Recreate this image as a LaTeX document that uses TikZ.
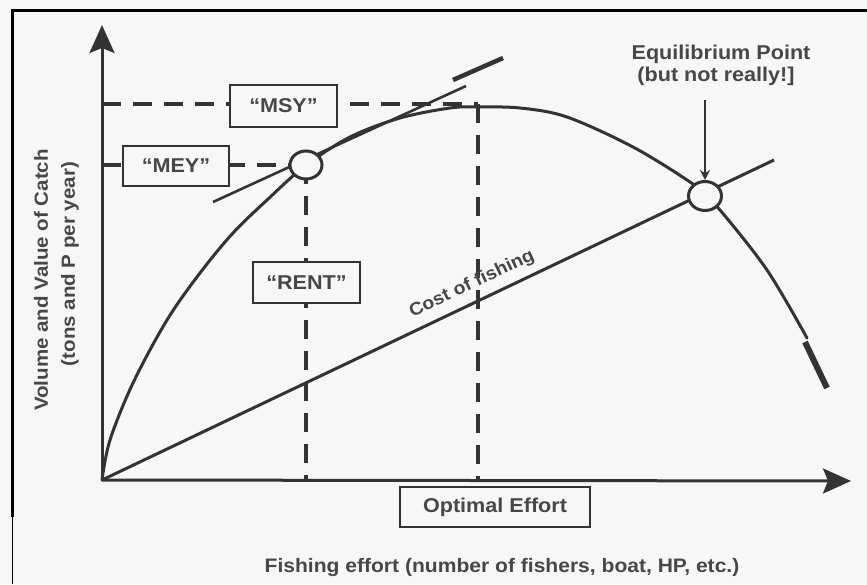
\documentclass[tikz,border=0pt]{standalone}
\usepackage{fontspec}
\setmainfont{Liberation Sans}[FakeStretch=1.08]
\usetikzlibrary{arrows.meta,shapes.geometric}
\definecolor{bg}{HTML}{F7F7F7}
\definecolor{ink}{HTML}{333333}
\definecolor{txt}{HTML}{474747}
\begin{document}
\begin{tikzpicture}[x=1pt,y=-1pt,
  lbl/.style={font=\fontsize{20}{24}\selectfont\bfseries, text=txt, inner sep=0pt},
  labbox/.style={draw=ink, line width=1.8pt, fill=bg, inner sep=0pt, font=\fontsize{20}{24}\selectfont\bfseries, text=txt},
  thickline/.style={draw=ink, line width=3pt},
  dashline/.style={draw=ink, line width=4pt, dash pattern=on 19pt off 12pt},
  ring/.style={ellipse, draw=ink, line width=3pt, fill=bg, inner sep=0pt},
  axisarrow/.style={draw=ink, line width=3pt, -{Stealth[length=28pt,width=25pt,inset=5pt]}}
]
\fill[bg] (0,0) rectangle (867,584);
\useasboundingbox (0,0) rectangle (867,584);
% frame
\coordinate (ftl) at (12,10);
\coordinate (ftr) at (867,10);
\coordinate (fbl) at (12,517);
\coordinate (fbb) at (12,584);
\draw[black, line width=3pt] (ftr) -- (ftl) -- (fbl);
\draw[black, line width=1pt] (fbl) -- (fbb);
% coordinates
\coordinate (O) at (102,480);
\coordinate (ytip) at (102,25);
\coordinate (xtip) at (851,481);
\coordinate (msyL) at (102,104);
\coordinate (msyR) at (478,104);
\coordinate (msyB) at (478,480);
\coordinate (meyL) at (102,165);
\coordinate (meyB) at (306,480);
\coordinate (costEnd) at (774,160);
\coordinate (tanA) at (213,202);
\coordinate (tanB) at (466,86);
\coordinate (tanC) at (453,80);
\coordinate (tanD) at (503,58);
\coordinate (endA) at (805,342);
\coordinate (endB) at (827,388);
\coordinate (arrTop) at (705,100);
% dashed guide lines
\draw[dashline] (msyL) -- (msyR);
\draw[dashline] (meyL) -- (306,165);
\draw[dashline] (306,165) -- (meyB);
\draw[dashline] (msyR) -- (msyB);
% tangent line
\draw[draw=ink, line width=2.6pt] (tanA) -- (tanB);
\draw[draw=ink, line width=4.5pt] (tanC) -- (tanD);
% yield curve
\draw[thickline, line cap=round] plot[smooth, tension=0.55] coordinates {
 (102,480) (110,440) (133,383) (167,320) (200,273) (233,233) (267,200)
 (305,166) (350,137) (400,118) (450,108) (477,107) (520,108) (567,117)
 (633,147) (690,182) (705,196) (720,210) (767,270) (807,338)};
\draw[draw=ink, line width=6pt] (endA) -- (endB);
% cost line
\draw[thickline] (O) -- (costEnd);
\node[lbl, font=\fontsize{18}{22}\selectfont\bfseries, rotate=25.4] (cost) at (472,284) {Cost of fishing};
% axes
\draw[axisarrow] (O) -- (ytip);
\draw[axisarrow] (O) -- (xtip);
% rings
\node[ring, minimum width=32pt, minimum height=28pt] (mey) at (306,165) {};
\node[ring, minimum width=33pt, minimum height=29pt] (eq) at (705,196) {};
% boxes
\node[labbox, minimum width=107pt, minimum height=42pt] (msy) at (283.5,106) {“MSY”};
\node[labbox, minimum width=106pt, minimum height=40pt] (meybox) at (176,166) {“MEY”};
\node[labbox, minimum width=107pt, minimum height=41pt] (rent) at (306.5,282.5) {“RENT”};
\node[labbox, minimum width=190pt, minimum height=40pt] (opt) at (495,507) {Optimal Effort};
% equilibrium label
\node[lbl] (eq1) at (721,54) {Equilibrium Point};
\node[lbl] (eq2) at (716,76) {(but not really!]};
\draw[draw=ink, line width=1.8pt, -{Stealth[length=10pt,width=10pt]}] (arrTop) -- (eq.north);
% axis labels
\node[lbl, font=\fontsize{19}{23}\selectfont\bfseries, rotate=90] (ylab1) at (41,280) {Volume and Value of Catch};
\node[lbl, font=\fontsize{19}{23}\selectfont\bfseries, rotate=90] (ylab2) at (70,264) {(tons and P per year)};
\node[lbl, font=\fontsize{19.5}{23}\selectfont\bfseries] (xlab) at (502,567) {Fishing effort (number of fishers, boat, HP, etc.)};
\end{tikzpicture}
\end{document}
